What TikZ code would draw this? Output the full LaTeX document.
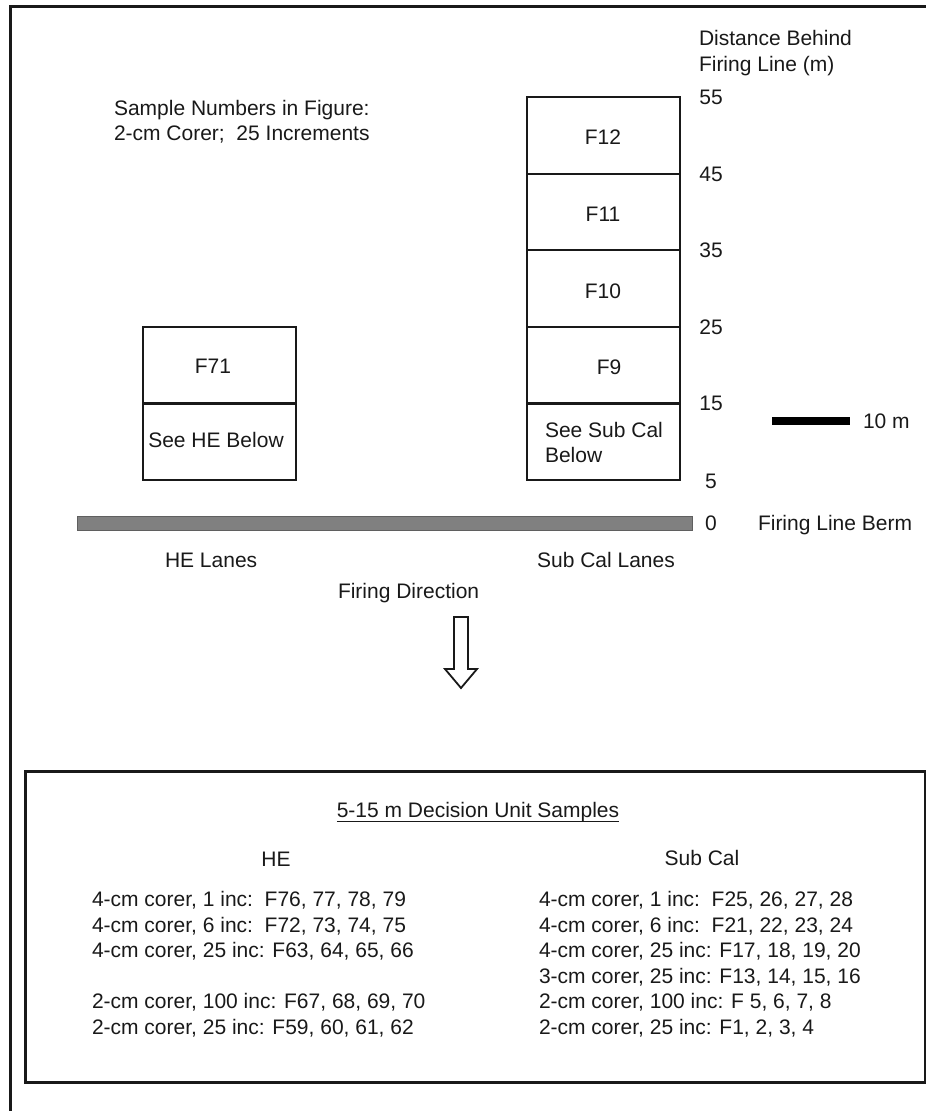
\documentclass[tikz,border=0pt]{standalone}
\usepackage{fontspec}
\setmainfont{Liberation Sans}
\definecolor{ink}{RGB}{25,25,25}
\definecolor{bermgray}{RGB}{128,128,128}
\definecolor{bermedge}{RGB}{95,95,95}
\begin{document}
\begin{tikzpicture}[x=1pt,y=-1pt,
  every node/.style={inner sep=0pt, outer sep=0pt, text height=15pt, text depth=0pt,
    text=ink, font=\fontsize{21pt}{25pt}\selectfont},
  cellline/.style={line width=2.2pt, draw=ink},
  frameline/.style={line width=3pt, draw=ink},
  lw/.style={anchor=west},
]
\useasboundingbox (0,0) rectangle (926,1111);

% outer frame (only left and top edges visible)
\draw[frameline] (10.5,1115) -- (10.5,6.5) -- (930,6.5);

% axis heading
\node[lw] (dist1) at (699,38) {Distance Behind};
\node[lw] (dist2) at (699,64) {Firing Line (m)};

% distance ticks
\node (d55) at (711,97) {55};
\node (d45) at (711,173.6) {45};
\node (d35) at (711,250.2) {35};
\node (d25) at (711,326.8) {25};
\node (d15) at (711,403.4) {15};
\node (d5) at (711,481) {5};
\node (d0) at (711,523) {0};

% note
\node[lw] (note1) at (114,108) {Sample Numbers in Figure:};
\node[lw] (note2) at (114,133) {2-cm Corer;\ \ 25 Increments};

% Sub Cal column of boxes
\draw[cellline] (527,97) rectangle (680,480);
\foreach \yy in {173.6,250.2,326.8,403.4} \draw[cellline] (527,\yy) -- (680,\yy);
\node (f12) at (603,137) {F12};
\node (f11) at (603,214) {F11};
\node (f10) at (603,291) {F10};
\node (f9) at (609,367) {F9};
\node[lw] (ssc1) at (545,430) {See Sub Cal};
\node[lw] (ssc2) at (545,455) {Below};

% HE column of boxes
\draw[cellline] (143,326.8) rectangle (296,480);
\draw[cellline] (143,403.4) -- (296,403.4);
\node (f71) at (213,366) {F71};
\node (she) at (216,440) {See HE Below};

% berm
\fill[bermgray, draw=bermedge, line width=0.8pt] (77,516) rectangle (692,530);
\node[lw] (berm) at (758,523) {Firing Line Berm};

% scale bar
\fill[black] (772,417) rectangle (850,425);
\node[lw] (scale) at (863,421) {10 m};

% lane labels
\node[lw] (helanes) at (165,560) {HE Lanes};
\node (sclanes) at (606,560) {Sub Cal Lanes};
\node[lw] (firedir) at (338,591) {Firing Direction};

% hollow arrow
\draw[line width=1.8pt, draw=ink, line join=miter]
  (454,617) -- (468,617) -- (468,669) -- (477,669) -- (461,688) -- (445,669) -- (454,669) -- cycle;

% decision unit box
\draw[frameline] (25,771) rectangle (925,1082);
\node (title) at (478,810) {5-15 m Decision Unit Samples};
\draw[line width=1.6pt, draw=ink] ([yshift=-4pt]title.south west) -- ([yshift=-4pt]title.south east);

\node (hehead) at (276,859) {HE};
\node (schead) at (702,858) {Sub Cal};

\node[lw] (he1) at (92,899)    {4-cm corer, 1 inc:\ \ F76, 77, 78, 79};
\node[lw] (he2) at (92,924.5)  {4-cm corer, 6 inc:\ \ F72, 73, 74, 75};
\node[lw] (he3) at (92,950)    {4-cm corer, 25 inc: F63, 64, 65, 66};
\node[lw] (he4) at (92,1001)   {2-cm corer, 100 inc: F67, 68, 69, 70};
\node[lw] (he5) at (92,1026.5) {2-cm corer, 25 inc: F59, 60, 61, 62};

\node[lw] (sc1) at (539,899)    {4-cm corer, 1 inc:\ \ F25, 26, 27, 28};
\node[lw] (sc2) at (539,924.5)  {4-cm corer, 6 inc:\ \ F21, 22, 23, 24};
\node[lw] (sc3) at (539,950)    {4-cm corer, 25 inc: F17, 18, 19, 20};
\node[lw] (sc4) at (539,975.5)  {3-cm corer, 25 inc: F13, 14, 15, 16};
\node[lw] (sc5) at (539,1001)   {2-cm corer, 100 inc: F 5, 6, 7, 8};
\node[lw] (sc6) at (539,1026.5) {2-cm corer, 25 inc: F1, 2, 3, 4};
\end{tikzpicture}
\end{document}
